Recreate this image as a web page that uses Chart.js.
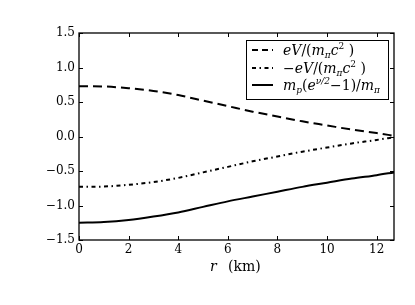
<!DOCTYPE html>
<html>
<head>
<meta charset="utf-8">
<script src="https://cdn.jsdelivr.net/npm/chart.js@4"></script>
<style>
  html, body { margin: 0; padding: 0; background: #fff; }
  #wrap { width: 415px; height: 305px; position: relative; }
</style>
</head>
<body>
<div id="wrap"><canvas id="c" width="415" height="305"></canvas></div>
<script>
const R     = [0, 1, 2, 3, 4, 5, 6, 7, 8, 9, 10, 11, 12, 12.7];
const EV    = [0.73, 0.725, 0.70, 0.66, 0.60, 0.52, 0.44, 0.36, 0.29, 0.22, 0.16, 0.10, 0.05, 0.01];
const NEGEV = [-0.73, -0.725, -0.70, -0.66, -0.60, -0.52, -0.44, -0.36, -0.29, -0.22, -0.16, -0.10, -0.05, -0.01];
const MP    = [-1.25, -1.24, -1.21, -1.16, -1.10, -1.02, -0.94, -0.87, -0.80, -0.73, -0.67, -0.61, -0.56, -0.52];
const X_TICKS = [0, 2, 4, 6, 8, 10, 12];
const Y_TICKS = [-1.5, -1.0, -0.5, 0.0, 0.5, 1.0, 1.5];

const SERIF = '"DejaVu Serif", "Liberation Serif", serif';
const pts = ys => R.map((x, i) => ({ x, y: ys[i] }));

// inward ticks on all four sides, frame, legend and axis title
const decor = {
  id: 'decor',
  afterDraw(chart) {
    const { ctx, chartArea: a, scales: { x, y } } = chart;
    ctx.save();
    ctx.strokeStyle = '#000';
    ctx.lineWidth = 1;
    X_TICKS.forEach(v => {
      const px = Math.round(x.getPixelForValue(v)) + 0.5;
      ctx.beginPath();
      ctx.moveTo(px, a.bottom); ctx.lineTo(px, a.bottom - 4);
      ctx.moveTo(px, a.top);    ctx.lineTo(px, a.top + 4);
      ctx.stroke();
    });
    Y_TICKS.forEach(v => {
      const py = Math.round(y.getPixelForValue(v)) + 0.5;
      ctx.beginPath();
      ctx.moveTo(a.left, py);  ctx.lineTo(a.left + 4, py);
      ctx.moveTo(a.right, py); ctx.lineTo(a.right - 4, py);
      ctx.stroke();
    });
    ctx.lineWidth = 1.3;
    ctx.strokeRect(a.left, a.top, a.right - a.left, a.bottom - a.top);

    // legend
    const lx = 246, ly = 40, lw = 142, lh = 59;
    ctx.fillStyle = '#fff';
    ctx.fillRect(lx, ly, lw, lh);
    ctx.lineWidth = 1;
    ctx.strokeRect(lx + 0.5, ly + 0.5, lw, lh);
    const rows = [
      { dash: [6, 4], yy: 50 },
      { dash: [4, 3.5, 1.5, 3.5], yy: 68 },
      { dash: [], yy: 85 }
    ];
    rows.forEach(r => {
      ctx.setLineDash(r.dash);
      ctx.lineWidth = 2;
      ctx.beginPath();
      ctx.moveTo(252, r.yy); ctx.lineTo(273, r.yy);
      ctx.stroke();
    });
    ctx.setLineDash([]);
    ctx.fillStyle = '#000';
    ctx.textBaseline = 'alphabetic';
    const it = s => 'italic ' + s + 'px ' + SERIF;
    const rm = s => s + 'px ' + SERIF;
    const run = (parts, x0, base) => {
      let xx = x0;
      parts.forEach(p => {
        ctx.font = p[1];
        ctx.fillText(p[0], xx, base + (p[2] || 0));
        xx += ctx.measureText(p[0]).width;
      });
    };
    run([['eV', it(14)], ['/(', rm(14)], ['m', it(14)], ['π', it(9), 3], ['c', it(14)], ['2', rm(9), -6], [' )', rm(14)]], 283, 55);
    run([['−', rm(14)], ['eV', it(14)], ['/(', rm(14)], ['m', it(14)], ['π', it(9), 3], ['c', it(14)], ['2', rm(9), -6], [' )', rm(14)]], 283, 73);
    run([['m', it(14)], ['p', it(9), 3], ['(', rm(14)], ['e', it(14)], ['ν/2', it(9), -6], ['−1)/', rm(14)], ['m', it(14)], ['π', it(9), 3]], 283, 90);

    // x axis title
    ctx.font = it(14);
    ctx.fillText('r', 210, 271);
    ctx.font = rm(14);
    ctx.fillText('(km)', 228, 271);
    ctx.restore();
  }
};

new Chart(document.getElementById('c'), {
  type: 'line',
  data: {
    datasets: [
      { data: pts(EV),    borderColor: '#000', borderWidth: 2, borderDash: [9, 5], pointRadius: 0, cubicInterpolationMode: 'monotone' },
      { data: pts(NEGEV), borderColor: '#000', borderWidth: 2, borderDash: [4, 3.5, 1.5, 3.5], pointRadius: 0, cubicInterpolationMode: 'monotone' },
      { data: pts(MP),    borderColor: '#000', borderWidth: 2, pointRadius: 0, cubicInterpolationMode: 'monotone' }
    ]
  },
  options: {
    responsive: false,
    animation: false,
    layout: { padding: { top: 33, right: 21, left: 0, bottom: 0 } },
    plugins: { legend: { display: false }, tooltip: { enabled: false } },
    scales: {
      x: {
        type: 'linear', min: 0, max: 12.7,
        afterBuildTicks: s => { s.ticks = X_TICKS.map(v => ({ value: v })); },
        afterFit: s => { s.height = 65; },
        grid: { display: false, drawTicks: false, tickLength: 0 },
        border: { display: false },
        ticks: { color: '#000', font: { family: SERIF, size: 12 }, padding: 3, maxRotation: 0, callback: v => String(v) }
      },
      y: {
        min: -1.5, max: 1.5,
        afterBuildTicks: s => { s.ticks = Y_TICKS.map(v => ({ value: v })); },
        afterFit: s => { s.width = 79; },
        grid: { display: false, drawTicks: false, tickLength: 0 },
        border: { display: false },
        ticks: { color: '#000', font: { family: SERIF, size: 12 }, padding: 4, callback: v => v.toFixed(1).replace('-', '−') }
      }
    }
  },
  plugins: [decor]
});
</script>
</body>
</html>
